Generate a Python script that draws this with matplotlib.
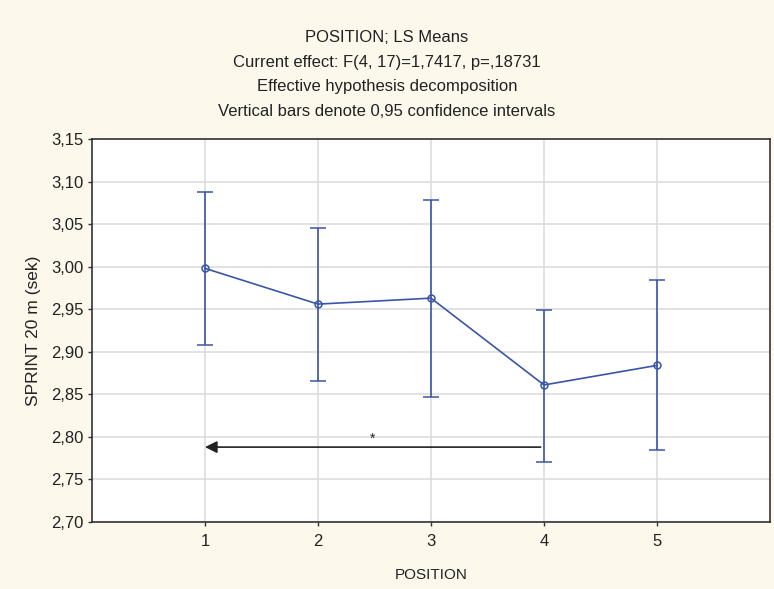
import numpy as np
import matplotlib.pyplot as plt
from matplotlib.ticker import FuncFormatter

plt.rcParams['font.family'] = ['Liberation Sans', 'DejaVu Sans']

# LS means and 95% confidence limits per position
positions = [1, 2, 3, 4, 5]
means = [2.998, 2.956, 2.963, 2.861, 2.884]
upper = [3.088, 3.045, 3.078, 2.949, 2.984]
lower = [2.908, 2.866, 2.847, 2.770, 2.785]

title_lines = [
    "POSITION; LS Means",
    "Current effect: F(4, 17)=1,7417, p=,18731",
    "Effective hypothesis decomposition",
    "Vertical bars denote 0,95 confidence intervals",
]

# significance arrow: from position 4 to position 1
arrow_from, arrow_to, arrow_y = 3.97, 1.0, 2.788

bg = '#fdf8ec'
blue = '#3a55a8'

fig = plt.figure(figsize=(7.74, 5.89), dpi=100, facecolor=bg)
ax = fig.add_axes([92 / 774, 1 - 522 / 589, 678 / 774, 383 / 589])
ax.set_facecolor('white')

means = np.array(means)
yerr = [means - np.array(lower), np.array(upper) - means]
ax.errorbar(positions, means, yerr=yerr, color=blue, lw=1.2, elinewidth=1.2,
            capsize=6, capthick=1.2, marker='o', ms=5, mfc='none', mec=blue,
            mew=1.1, zorder=3)

ax.annotate('', xy=(arrow_to, arrow_y), xytext=(arrow_from, arrow_y),
            arrowprops=dict(arrowstyle='-|>', color='#222222', lw=1.2,
                            mutation_scale=18, shrinkA=0, shrinkB=0))
ax.text((arrow_from + arrow_to) / 2, arrow_y + 0.001, '*', ha='center',
        va='bottom', fontsize=10, color='#222222')

ax.set_xlim(0, 6)
ax.set_ylim(2.70, 3.15)
ax.set_xticks(positions)
ax.set_yticks(np.arange(2.70, 3.151, 0.05))
ax.yaxis.set_major_formatter(FuncFormatter(lambda v, p: f"{v:.2f}".replace('.', ',')))
ax.grid(True, color='#dddddd', lw=1.2, zorder=0)
ax.set_axisbelow(True)
ax.tick_params(axis='both', direction='out', length=3, width=1, color='#333333',
               labelsize=12, labelcolor='#222222')
ax.tick_params(axis='y', pad=3)
ax.tick_params(axis='x', pad=6)
for s in ax.spines.values():
    s.set_color('#333333')
    s.set_linewidth(1.2)

ax.set_xlabel('POSITION', fontsize=11, color='#222222', labelpad=13)
ax.set_ylabel('SPRINT 20 m (sek)', fontsize=12.5, color='#222222', labelpad=7)

for i, line in enumerate(title_lines):
    fig.text(0.5, 1 - (37 + 25 * i) / 589, line, ha='center', va='center',
             fontsize=12, color='#222222')

fig.savefig('out.png', dpi=100, facecolor=bg)
